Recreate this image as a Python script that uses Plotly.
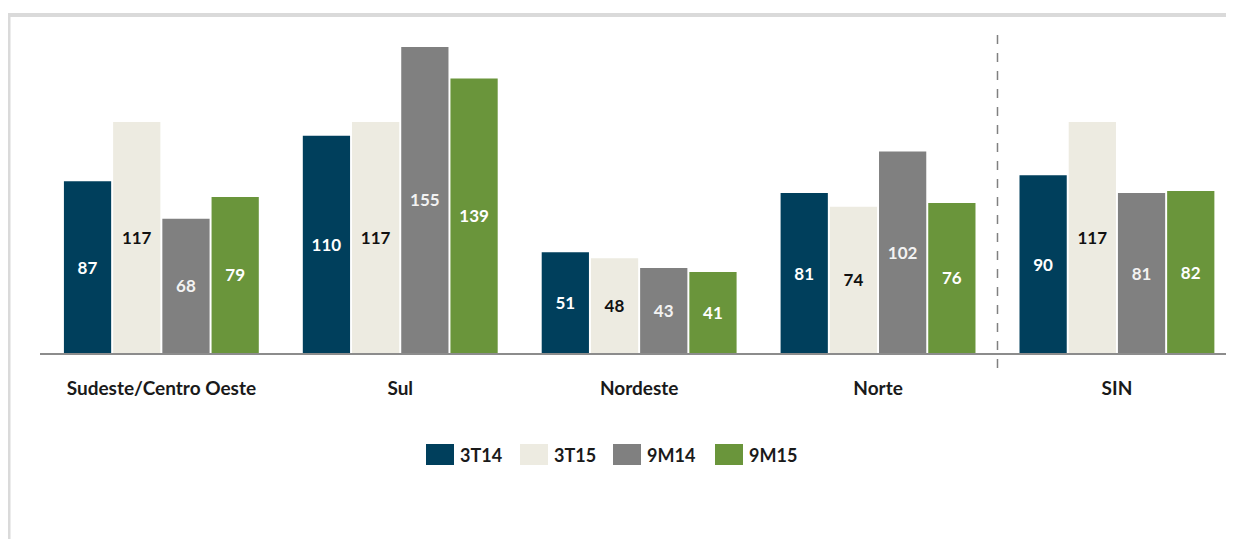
import plotly.graph_objects as go

categories = ["Sudeste/Centro Oeste", "Sul", "Nordeste", "Norte", "SIN"]
series_names = ["3T14", "3T15", "9M14", "9M15"]
values_3T14 = [87, 110, 51, 81, 90]
values_3T15 = [117, 117, 48, 74, 117]
values_9M14 = [68, 155, 43, 102, 81]
values_9M15 = [79, 139, 41, 76, 82]
series_values = [values_3T14, values_3T15, values_9M14, values_9M15]
colors = ["#003F5C", "#EDEBE1", "#808080", "#6A953B"]
text_colors = ["#FFFFFF", "#111111", "#F2F2F2", "#FFFFFF"]

OFF = 8  # default page body margin
W, H = 1226, 531
L, R, T, B = 32, 0, 29, 186
plot_w = W - L - R
plot_h = H - T - B
x_range = [-0.508, 4.49]
y_range = [0, 160]

FONT = "Lato"

fig = go.Figure()
for name, vals, col, tcol in zip(series_names, series_values, colors, text_colors):
    fig.add_trace(go.Bar(
        x=categories, y=vals, name=name,
        marker=dict(color=col, line=dict(width=0)),
        text=vals, texttemplate="%{text}",
        textposition="inside", insidetextanchor="middle",
        textfont=dict(family=FONT, size=17, color=tcol, weight="bold"),
        showlegend=False,
    ))


def px_to_paper_x(sx):
    return (sx - OFF - L) / plot_w


def px_to_paper_y(sy):
    return (H - B - (sy - OFF)) / plot_h


shapes = []
# frame border (top and left)
shapes.append(dict(type="line", xref="paper", yref="paper",
                   x0=px_to_paper_x(6.5), x1=px_to_paper_x(1240),
                   y0=px_to_paper_y(15), y1=px_to_paper_y(15),
                   line=dict(color="#DADADA", width=4)))
shapes.append(dict(type="line", xref="paper", yref="paper",
                   x0=px_to_paper_x(8.5), x1=px_to_paper_x(8.5),
                   y0=px_to_paper_y(13), y1=px_to_paper_y(560),
                   line=dict(color="#DADADA", width=4)))
# dashed separator between Norte and SIN
sep = (3.5 - x_range[0]) / (x_range[1] - x_range[0])
shapes.append(dict(type="line", xref="paper", yref="paper",
                   x0=sep, x1=sep,
                   y0=px_to_paper_y(35), y1=px_to_paper_y(376),
                   line=dict(color="#808080", width=1.5, dash="dash")))

# manual legend
annotations = []
legend_swatch_x = [426, 520, 613, 715]
sw_w, sw_top, sw_bot = 28, 444, 465
for name, col, sx in zip(series_names, colors, legend_swatch_x):
    shapes.append(dict(type="rect", xref="paper", yref="paper",
                       x0=px_to_paper_x(sx), x1=px_to_paper_x(sx + sw_w),
                       y0=px_to_paper_y(sw_bot), y1=px_to_paper_y(sw_top),
                       fillcolor=col, line=dict(width=0)))
    annotations.append(dict(xref="paper", yref="paper",
                            x=px_to_paper_x(sx + sw_w + 4),
                            y=px_to_paper_y((sw_top + sw_bot) / 2),
                            xanchor="left", yanchor="middle", showarrow=False,
                            text=name,
                            font=dict(family=FONT, size=18, color="#1A1A1A", weight="bold")))

fig.update_layout(
    width=W, height=H,
    margin=dict(l=L, r=R, t=T, b=B, pad=0),
    paper_bgcolor="white", plot_bgcolor="white",
    barmode="group", bargap=0.176, bargroupgap=0.04,
    shapes=shapes, annotations=annotations,
    xaxis=dict(range=x_range, showgrid=False, zeroline=False,
               showline=True, linecolor="#8C8C8C", linewidth=1.5,
               ticks="outside", ticklen=17, tickcolor="rgba(0,0,0,0)",
               tickfont=dict(family=FONT, size=19, color="#1A1A1A", weight="bold")),
    yaxis=dict(range=y_range, visible=False, showgrid=False, zeroline=False),
)

fig.write_html("out.html")
